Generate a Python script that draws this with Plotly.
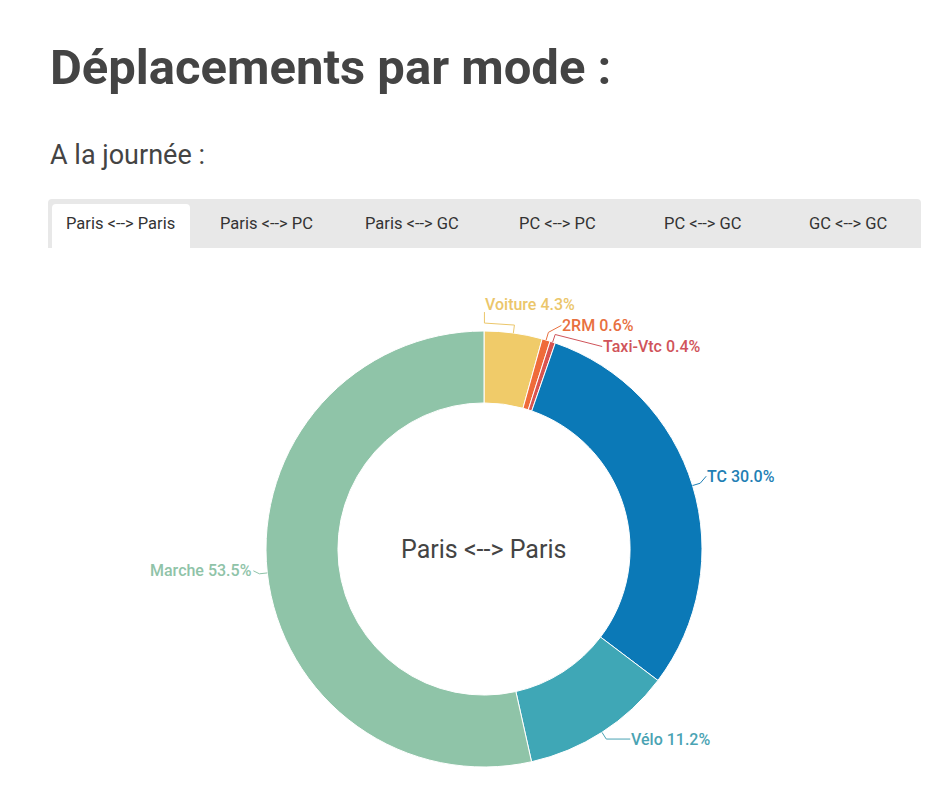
import math
import plotly.graph_objects as go

# ---------------- data ----------------
modes = ["Voiture", "2RM", "Taxi-Vtc", "TC", "Vélo", "Marche"]
shares = [4.3, 0.6, 0.4, 30.0, 11.2, 53.5]
tab_labels = ["Paris <--> Paris", "Paris <--> PC", "Paris <--> GC",
              "PC <--> PC", "PC <--> GC", "GC <--> GC"]
center_label = "Paris <--> Paris"
page_title = "Déplacements par mode :"
page_subtitle = "A la journée :"

# ---------------- style ----------------
slice_colors = ["#F0CB69", "#EF6B3A", "#D9534F", "#0B79B7", "#3FA7B6", "#8FC4A8"]
label_colors = ["#EBC66A", "#E8703F", "#D0545A", "#1F7FB5", "#4AA3B3", "#8FC3A8"]
# leader-line end nudges (px) and optional extra text lift (px)
label_nudge = {"Voiture": (-40, -2), "2RM": (3, -7), "Taxi-Vtc": (37, 12),
               "TC": (-4, -7), "Vélo": (14, 0), "Marche": (4, -3)}
text_lift = {"Voiture": 19}

PAGE_W, PAGE_H = 941, 807
OFF = 8  # browser body margin
W, H = PAGE_W - 2 * OFF, PAGE_H - 2 * OFF
CX, CY, R = 484, 549, 218
HOLE = 0.67
LEN1, LEN2 = 8, 10
FONT = "Roboto"


def px(x):
    return (x - OFF) / W


def py(y):
    return 1 - (y - OFF) / H


fig = go.Figure()

fig.add_trace(go.Pie(
    labels=modes, values=shares, sort=False, direction="clockwise", rotation=0,
    hole=HOLE, textinfo="none", hoverinfo="label+percent",
    marker=dict(colors=slice_colors, line=dict(color="white", width=1)),
    domain=dict(x=[px(CX - R), px(CX + R)], y=[py(CY + R), py(CY - R)]),
    showlegend=False,
))

shapes = []
annotations = []


def rounded_top(x0, x1, y0, y1, r):
    return (f"M {px(x0)},{py(y1)} L {px(x0)},{py(y0 + r)} "
            f"Q {px(x0)},{py(y0)} {px(x0 + r)},{py(y0)} "
            f"L {px(x1 - r)},{py(y0)} Q {px(x1)},{py(y0)} {px(x1)},{py(y0 + r)} "
            f"L {px(x1)},{py(y1)} Z")


# tabs bar
bar_x0, bar_x1, bar_y0, bar_y1 = 48, 921, 199, 248
shapes.append(dict(type="path", xref="paper", yref="paper",
                   path=rounded_top(bar_x0, bar_x1, bar_y0, bar_y1, 4),
                   fillcolor="#E8E8E8", line=dict(width=0), layer="below"))
tab_w = (bar_x1 - bar_x0) / len(tab_labels)
# active tab (first)
shapes.append(dict(type="path", xref="paper", yref="paper",
                   path=rounded_top(52, 190, 204, bar_y1, 4),
                   fillcolor="white", line=dict(width=0), layer="below"))
for i, t in enumerate(tab_labels):
    annotations.append(dict(x=px(bar_x0 + tab_w * (i + 0.5)), y=py(223), xref="paper", yref="paper",
                            text=t, showarrow=False, xanchor="center", yanchor="middle",
                            font=dict(family=FONT, size=16.5, color="#333333")))

# titles
annotations.append(dict(x=px(48), y=py(68), xref="paper", yref="paper", text=page_title,
                        showarrow=False, xanchor="left", yanchor="middle",
                        font=dict(family=FONT, size=49, color="#444444", weight="bold")))
annotations.append(dict(x=px(48), y=py(155), xref="paper", yref="paper", text=page_subtitle,
                        showarrow=False, xanchor="left", yanchor="middle",
                        font=dict(family=FONT, size=27, color="#444444")))

# center label
annotations.append(dict(x=px(CX), y=py(CY), xref="paper", yref="paper", text=center_label,
                        showarrow=False, xanchor="center", yanchor="middle",
                        font=dict(family=FONT, size=25, color="#444444")))

# outside labels with leader lines
total = sum(shares)
cum = 0.0
for name, v, lc in zip(modes, shares, label_colors):
    theta = math.radians((cum + v / 2) / total * 360)
    cum += v
    dx, dy = math.sin(theta), -math.cos(theta)
    p0 = (CX + R * dx, CY + R * dy)
    e = (CX + (R + LEN1) * dx, CY + (R + LEN1) * dy)
    side = 1 if dx >= 0 else -1
    nx, ny = label_nudge.get(name, (0, 0))
    L = (e[0] + side * LEN2 + nx, e[1] + ny)
    lift = text_lift.get(name, 0)
    path = f"M {px(p0[0])},{py(p0[1])} L {px(e[0])},{py(e[1])} L {px(L[0])},{py(L[1])}"
    if lift:
        path += f" L {px(L[0])},{py(L[1] - lift + 8)}"
    shapes.append(dict(type="path", xref="paper", yref="paper",
                       path=path, line=dict(color=lc, width=1)))
    pct = f"{v / total * 100:.1f}%"
    annotations.append(dict(x=px(L[0] - side * 1), y=py(L[1] - lift), xref="paper", yref="paper",
                            text=f"{name} {pct}", showarrow=False,
                            xanchor="left" if side > 0 else "right", yanchor="middle",
                            font=dict(family=FONT, size=16, color=lc, weight=500)))

fig.update_layout(
    width=W, height=H, margin=dict(l=0, r=0, t=0, b=0),
    paper_bgcolor="white", plot_bgcolor="white",
    shapes=shapes, annotations=annotations,
)

fig.write_html("out.html")
